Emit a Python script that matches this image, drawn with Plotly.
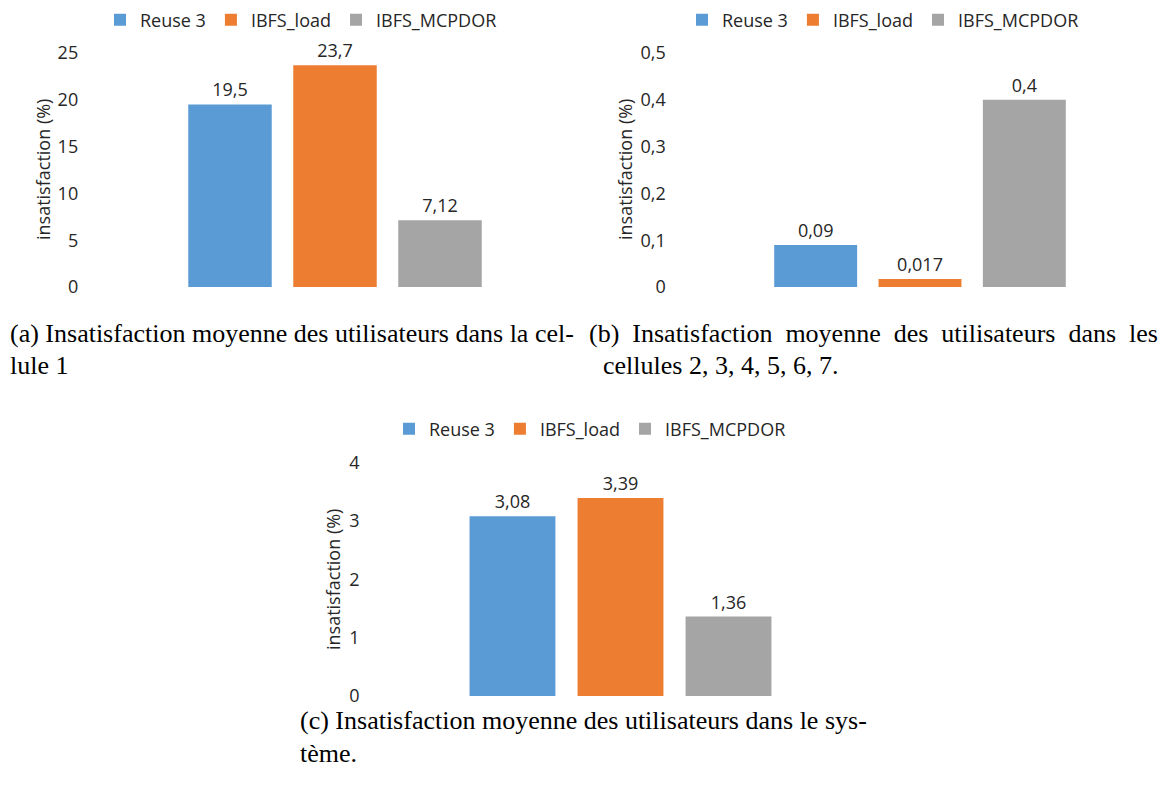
import plotly.graph_objects as go

W, H = 1173, 787

# ---- data ----
series = ["Reuse 3", "IBFS_load", "IBFS_MCPDOR"]
colors = ["#5B9BD5", "#ED7D31", "#A5A5A5"]
category = ["cellule"]
vals_a = [19.5, 23.7, 7.12]   # cellule 1
vals_b = [0.09, 0.017, 0.4]   # cellules 2..7
vals_c = [3.08, 3.39, 1.36]   # système
ticks_a = [0, 5, 10, 15, 20, 25]
ticks_b = [0, 0.1, 0.2, 0.3, 0.4, 0.5]
ticks_c = [0, 1, 2, 3, 4]
ytitle = "insatisfaction (%)"
cap_a = ["(a) Insatisfaction moyenne des utilisateurs dans la cel-", "lule 1"]
cap_b = ["(b)  Insatisfaction  moyenne  des  utilisateurs  dans  les", "cellules 2, 3, 4, 5, 6, 7."]
cap_c = ["(c) Insatisfaction moyenne des utilisateurs dans le sys-", "tème."]

TXT = "#262626"
FONT = "Open Sans"
SERIF = "Liberation Serif"


def px(x):
    return x / W


def py(y):
    return 1 - y / H


def fmt(v):
    return str(v).replace(".", ",")


fig = go.Figure()

panels = [
    ("x", "y", "legend", vals_a),
    ("x2", "y2", "legend2", vals_b),
    ("x3", "y3", "legend3", vals_c),
]
for xa, ya, leg, vals in panels:
    for name, col, v in zip(series, colors, vals):
        fig.add_trace(go.Bar(
            x=category, y=[v], name=name, marker=dict(color=col, line=dict(width=0)),
            text=[fmt(v)], textposition="outside", cliponaxis=False,
            textfont=dict(family=FONT, size=18, color=TXT),
            xaxis=xa, yaxis=ya, legend=leg,
        ))

axis_common = dict(showgrid=False, zeroline=False, showline=False, ticks="",
                   tickfont=dict(family=FONT, size=18, color=TXT))

fig.update_layout(
    width=W, height=H, margin=dict(l=0, r=0, t=0, b=0, autoexpand=False),
    paper_bgcolor="white", plot_bgcolor="white",
    barmode="group", bargap=0.372, bargroupgap=0.205,
    separators=", ",
    xaxis=dict(domain=[px(84.2), px(585.8)], showticklabels=False, anchor="y", **axis_common),
    yaxis=dict(domain=[py(287), py(53)], range=[0, 25], tickvals=ticks_a, anchor="x",
               ticklabelstandoff=5, **axis_common),
    xaxis2=dict(domain=[px(670.8), px(1169.2)], showticklabels=False, anchor="y2", **axis_common),
    yaxis2=dict(domain=[py(287), py(53)], range=[0, 0.5], tickvals=ticks_b,
                ticktext=[fmt(t) for t in ticks_b], anchor="x2", ticklabelstandoff=4, **axis_common),
    xaxis3=dict(domain=[px(362.5), px(878.5)], showticklabels=False, anchor="y3", **axis_common),
    yaxis3=dict(domain=[py(696), py(462.5)], range=[0, 4], tickvals=ticks_c, anchor="x3",
                ticklabelstandoff=2, **axis_common),
)

leg_common = dict(orientation="h", xanchor="left", yanchor="middle",
                  font=dict(family=FONT, size=18, color=TXT), bgcolor="rgba(0,0,0,0)",
                  traceorder="normal")
fig.update_layout(
    legend=dict(x=px(100), y=py(20), **leg_common),
    legend2=dict(x=px(682), y=py(20), **leg_common),
    legend3=dict(x=px(389), y=py(429), **leg_common),
)

annots = []
for x, y in [(43, 170), (625, 170), (333, 580)]:
    annots.append(dict(text=ytitle, x=px(x), y=py(y), xref="paper", yref="paper",
                       textangle=-90, showarrow=False, xanchor="center", yanchor="middle",
                       font=dict(family=FONT, size=18, color=TXT)))

caps = [
    (cap_a[0], 8, 333), (cap_a[1], 8, 366),
    (cap_b[0].replace("  ", "\u00a0\u00a0"), 587, 333), (cap_b[1], 601, 366),
    (cap_c[0], 298, 720), (cap_c[1], 298, 753),
]
for t, x, y in caps:
    annots.append(dict(text=t, x=px(x), y=py(y), xref="paper", yref="paper",
                       showarrow=False, xanchor="left", yanchor="middle",
                       font=dict(family=SERIF, size=26, color="black")))
fig.update_layout(annotations=annots)

fig.write_html("out.html", config={"displayModeBar": False},
               post_script="document.body.style.margin='0px';document.body.style.overflow='hidden';")
